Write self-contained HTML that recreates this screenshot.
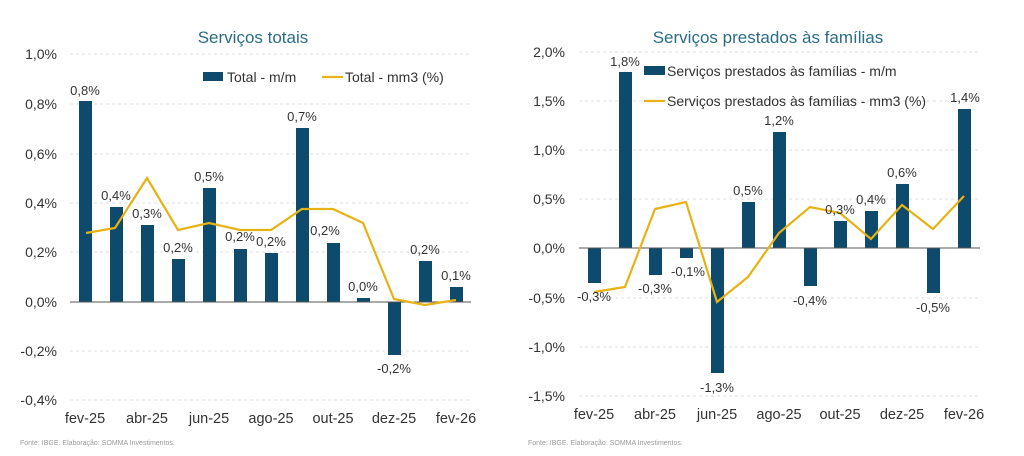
<!DOCTYPE html>
<html><head><meta charset="utf-8"><style>
html,body{margin:0;padding:0;background:#fff}
svg{display:block;font-family:"Liberation Sans",sans-serif}
</style></head><body>
<svg width="1024" height="456" viewBox="0 0 1024 456">
<rect width="1024" height="456" fill="#fff"/>
<!-- LEFT -->
<text x="253" y="43" font-size="17" fill="#2b6c87" text-anchor="middle">Serviços totais</text>
<g stroke="#ddd" stroke-dasharray="3,3" stroke-width="1">
<line x1="70" x2="471" y1="54" y2="54"/><line x1="70" x2="471" y1="104" y2="104"/><line x1="70" x2="471" y1="154" y2="154"/><line x1="70" x2="471" y1="203" y2="203"/><line x1="70" x2="471" y1="252" y2="252"/><line x1="70" x2="471" y1="351" y2="351"/><line x1="70" x2="471" y1="400" y2="400"/>
</g>
<g font-size="14" fill="#333" text-anchor="end">
<text x="57" y="59">1,0%</text><text x="57" y="109">0,8%</text><text x="57" y="159">0,6%</text><text x="57" y="208">0,4%</text><text x="57" y="257">0,2%</text><text x="57" y="307">0,0%</text><text x="57" y="356">-0,2%</text><text x="57" y="405">-0,4%</text>
</g>
<g fill="#0d4a6b">
<rect x="79" y="101" width="13" height="201"/><rect x="110" y="207" width="13" height="95"/><rect x="141" y="225" width="13" height="77"/><rect x="172" y="259" width="13" height="43"/><rect x="203" y="188" width="13" height="114"/><rect x="234" y="249" width="13" height="53"/><rect x="265" y="253" width="13" height="49"/><rect x="296" y="128" width="13" height="174"/><rect x="327" y="243" width="13" height="59"/><rect x="357" y="298" width="13" height="4"/><rect x="388" y="302" width="13" height="53"/><rect x="419" y="261" width="13" height="41"/><rect x="450" y="287" width="13" height="15"/>
</g>
<line x1="70" x2="471" y1="302" y2="302" stroke="#555" stroke-width="1"/>
<polyline fill="none" stroke="#e6b214" stroke-width="2.2" points="86,233 115,228 147,178 178,230 209,223 240,230 271,230 302,209 333,209 363,223 394,299 425,305 456,300"/>
<g font-size="13" fill="#333" text-anchor="middle">
<text x="85" y="95">0,8%</text><text x="116" y="200">0,4%</text><text x="147" y="218">0,3%</text><text x="178" y="252">0,2%</text><text x="209" y="181">0,5%</text><text x="240" y="241">0,2%</text><text x="271" y="246">0,2%</text><text x="302" y="121">0,7%</text><text x="325" y="235">0,2%</text><text x="363" y="291">0,0%</text><text x="394" y="373">-0,2%</text><text x="425" y="254">0,2%</text><text x="456" y="280">0,1%</text>
</g>
<rect x="203" y="72" width="20" height="9" fill="#0d4a6b"/>
<text x="227" y="82" font-size="14" fill="#333">Total - m/m</text>
<line x1="322" x2="343" y1="77" y2="77" stroke="#e6b214" stroke-width="2.2"/>
<text x="345" y="82" font-size="14" fill="#333">Total - mm3 (%)</text>
<g font-size="14.5" fill="#333" text-anchor="middle">
<text x="85" y="423">fev-25</text><text x="147" y="423">abr-25</text><text x="209" y="423">jun-25</text><text x="271" y="423">ago-25</text><text x="333" y="423">out-25</text><text x="394" y="423">dez-25</text><text x="456" y="423">fev-26</text>
</g>
<text x="20" y="445" font-size="7" fill="#999">Fonte: IBGE. Elaboração: SOMMA Investimentos.</text>
<!-- RIGHT -->
<text x="768" y="43" font-size="17" fill="#2b6c87" text-anchor="middle">Serviços prestados às famílias</text>
<g stroke="#ddd" stroke-dasharray="3,3" stroke-width="1">
<line x1="579" x2="980" y1="52" y2="52"/><line x1="579" x2="980" y1="101" y2="101"/><line x1="579" x2="980" y1="150" y2="150"/><line x1="579" x2="980" y1="199" y2="199"/><line x1="579" x2="980" y1="298" y2="298"/><line x1="579" x2="980" y1="347" y2="347"/><line x1="579" x2="980" y1="396" y2="396"/>
</g>
<g font-size="14" fill="#333" text-anchor="end">
<text x="565" y="57">2,0%</text><text x="565" y="106">1,5%</text><text x="565" y="155">1,0%</text><text x="565" y="204">0,5%</text><text x="565" y="253">0,0%</text><text x="565" y="303">-0,5%</text><text x="565" y="352">-1,0%</text><text x="565" y="401">-1,5%</text>
</g>
<g fill="#0d4a6b">
<rect x="588" y="248" width="13" height="35"/><rect x="619" y="72" width="13" height="176"/><rect x="649" y="248" width="13" height="27"/><rect x="680" y="248" width="13" height="10"/><rect x="711" y="248" width="13" height="125"/><rect x="742" y="202" width="13" height="46"/><rect x="773" y="132" width="13" height="116"/><rect x="804" y="248" width="13" height="38"/><rect x="834" y="221" width="13" height="27"/><rect x="865" y="211" width="13" height="37"/><rect x="896" y="184" width="13" height="64"/><rect x="927" y="248" width="13" height="45"/><rect x="958" y="109" width="13" height="139"/>
</g>
<line x1="579" x2="980" y1="248" y2="248" stroke="#555" stroke-width="1"/>
<polyline fill="none" stroke="#e6b214" stroke-width="2.2" points="594,292 625,287 655,209 686,202 717,302 748,277 779,233 810,207 840,213 871,239 902,205 933,229 964,196"/>
<g font-size="13" fill="#333" text-anchor="middle">
<text x="594" y="301">-0,3%</text><text x="625" y="66">1,8%</text><text x="655" y="293">-0,3%</text><text x="688" y="276">-0,1%</text><text x="717" y="392">-1,3%</text><text x="748" y="195">0,5%</text><text x="779" y="125">1,2%</text><text x="810" y="305">-0,4%</text><text x="840" y="214">0,3%</text><text x="871" y="204">0,4%</text><text x="902" y="177">0,6%</text><text x="933" y="312">-0,5%</text><text x="965" y="102">1,4%</text>
</g>
<rect x="644" y="66" width="21" height="9" fill="#0d4a6b"/>
<text x="667" y="76" font-size="14" fill="#333">Serviços prestados às famílias - m/m</text>
<line x1="644" x2="665" y1="101" y2="101" stroke="#e6b214" stroke-width="2.2"/>
<text x="667" y="106" font-size="14" fill="#333">Serviços prestados às famílias - mm3 (%)</text>
<g font-size="14.5" fill="#333" text-anchor="middle">
<text x="594" y="419">fev-25</text><text x="655" y="419">abr-25</text><text x="717" y="419">jun-25</text><text x="779" y="419">ago-25</text><text x="840" y="419">out-25</text><text x="902" y="419">dez-25</text><text x="964" y="419">fev-26</text>
</g>
<text x="528" y="445" font-size="7" fill="#999">Fonte: IBGE. Elaboração: SOMMA Investimentos.</text>
</svg>
</body></html>
